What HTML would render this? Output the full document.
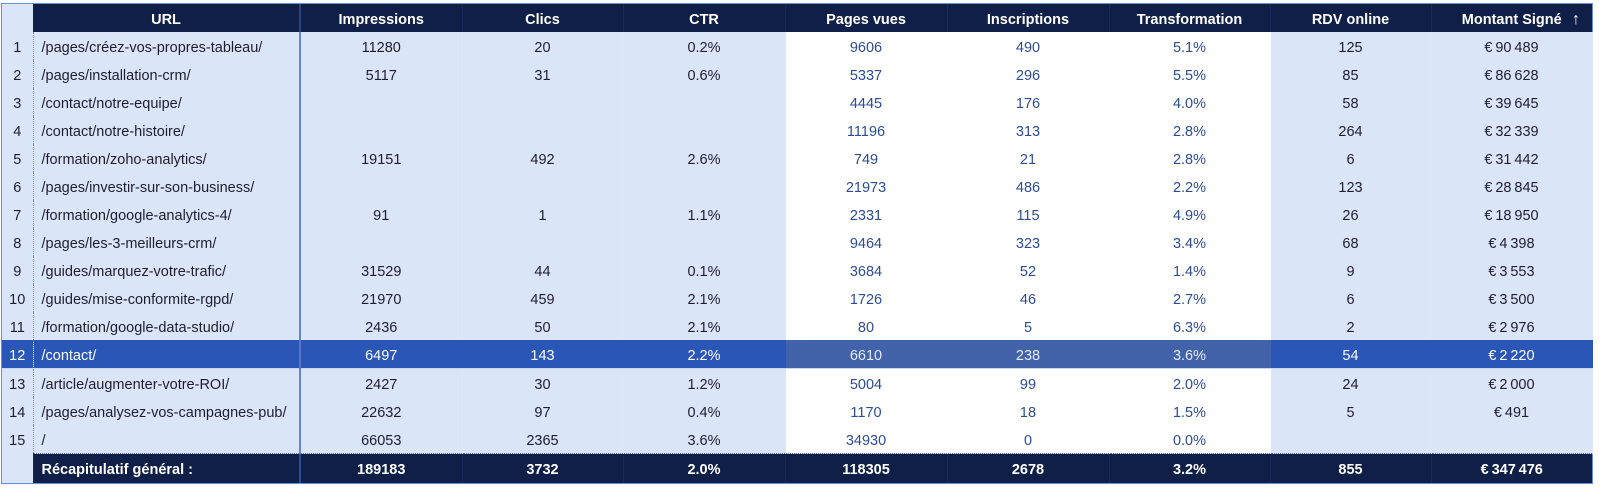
<!DOCTYPE html>
<html><head><meta charset="utf-8">
<style>
html,body{margin:0;padding:0;background:#fff;width:1600px;height:489px;overflow:hidden;}
body{font-family:"Liberation Sans",sans-serif;font-size:14.5px;}
.wrap{position:absolute;left:1px;top:3px;width:1590px;height:479px;border:1px solid #6a8fd8;background:#dbe5f8;}
table{border-collapse:collapse;table-layout:fixed;width:1590px;position:absolute;left:0;top:0;}
td,th{padding:4px 0 0 0;height:24px;line-height:24px;text-align:center;white-space:nowrap;overflow:hidden;color:#1d1f2e;}
th{background:#0f1f47;color:#fff;font-weight:bold;border-right:1px solid #17295a;}
th.i{background:#dbe5f8;border-right:none;}
td{background:#dbe5f8;border-right:1px solid #dee7f9;}
td.i{border-right:1px dotted #6d8ad0;}
td.u{text-align:left;padding-left:8px;border-right:2px solid #6584cf;}
td.w{background:#fff;color:#2d4c94;border-right:1px solid #fff;}
tr.h td{background:#2a56b8;color:#fff;border-bottom:1px solid #c9d6f2;border-right:1px solid #2a56b8;}
tr.h td.i{border-right:1px dotted #4a6fc4;}
tr.h td.u{border-right:2px solid #5576c4;}
tr.h td.w{background:#4262aa;color:#e6ebf6;border-right:1px solid #4262aa;}
tr.s td{background:#0f1f47;color:#fff;font-weight:bold;height:25px;line-height:25px;border-top:1px dotted #5a6f9e;border-right:1px solid #17295a;}
tr.s td.i{background:#dbe5f8;border-top:none;}
tr.s td.u{border-right:2px solid #2f4e98;}
.arr{position:absolute;right:12px;font-weight:bold;font-size:16px;}
</style></head><body>
<div class="wrap">
<table>
<colgroup><col style="width:31px"><col style="width:267px"><col style="width:162px"><col style="width:161px"><col style="width:162px"><col style="width:162px"><col style="width:162px"><col style="width:161px"><col style="width:161px"><col style="width:161px"></colgroup>
<tr><th class="i"></th><th style="border-right:2px solid #2b4580">URL</th><th>Impressions</th><th>Clics</th><th>CTR</th><th>Pages vues</th><th>Inscriptions</th><th>Transformation</th><th>RDV online</th><th style="position:relative;border-right:none">Montant Signé<span class="arr">↑</span></th></tr>
<tr><td class="i">1</td><td class="u">/pages/créez-vos-propres-tableau/</td><td>11280</td><td>20</td><td>0.2%</td><td class="w">9606</td><td class="w">490</td><td class="w">5.1%</td><td>125</td><td>€&#8201;90&#8201;489</td></tr>
<tr><td class="i">2</td><td class="u">/pages/installation-crm/</td><td>5117</td><td>31</td><td>0.6%</td><td class="w">5337</td><td class="w">296</td><td class="w">5.5%</td><td>85</td><td>€&#8201;86&#8201;628</td></tr>
<tr><td class="i">3</td><td class="u">/contact/notre-equipe/</td><td></td><td></td><td></td><td class="w">4445</td><td class="w">176</td><td class="w">4.0%</td><td>58</td><td>€&#8201;39&#8201;645</td></tr>
<tr><td class="i">4</td><td class="u">/contact/notre-histoire/</td><td></td><td></td><td></td><td class="w">11196</td><td class="w">313</td><td class="w">2.8%</td><td>264</td><td>€&#8201;32&#8201;339</td></tr>
<tr><td class="i">5</td><td class="u">/formation/zoho-analytics/</td><td>19151</td><td>492</td><td>2.6%</td><td class="w">749</td><td class="w">21</td><td class="w">2.8%</td><td>6</td><td>€&#8201;31&#8201;442</td></tr>
<tr><td class="i">6</td><td class="u">/pages/investir-sur-son-business/</td><td></td><td></td><td></td><td class="w">21973</td><td class="w">486</td><td class="w">2.2%</td><td>123</td><td>€&#8201;28&#8201;845</td></tr>
<tr><td class="i">7</td><td class="u">/formation/google-analytics-4/</td><td>91</td><td>1</td><td>1.1%</td><td class="w">2331</td><td class="w">115</td><td class="w">4.9%</td><td>26</td><td>€&#8201;18&#8201;950</td></tr>
<tr><td class="i">8</td><td class="u">/pages/les-3-meilleurs-crm/</td><td></td><td></td><td></td><td class="w">9464</td><td class="w">323</td><td class="w">3.4%</td><td>68</td><td>€&#8201;4&#8201;398</td></tr>
<tr><td class="i">9</td><td class="u">/guides/marquez-votre-trafic/</td><td>31529</td><td>44</td><td>0.1%</td><td class="w">3684</td><td class="w">52</td><td class="w">1.4%</td><td>9</td><td>€&#8201;3&#8201;553</td></tr>
<tr><td class="i">10</td><td class="u">/guides/mise-conformite-rgpd/</td><td>21970</td><td>459</td><td>2.1%</td><td class="w">1726</td><td class="w">46</td><td class="w">2.7%</td><td>6</td><td>€&#8201;3&#8201;500</td></tr>
<tr><td class="i">11</td><td class="u">/formation/google-data-studio/</td><td>2436</td><td>50</td><td>2.1%</td><td class="w">80</td><td class="w">5</td><td class="w">6.3%</td><td>2</td><td>€&#8201;2&#8201;976</td></tr>
<tr class="h"><td class="i">12</td><td class="u">/contact/</td><td>6497</td><td>143</td><td>2.2%</td><td class="w">6610</td><td class="w">238</td><td class="w">3.6%</td><td>54</td><td>€&#8201;2&#8201;220</td></tr>
<tr><td class="i">13</td><td class="u">/article/augmenter-votre-ROI/</td><td>2427</td><td>30</td><td>1.2%</td><td class="w">5004</td><td class="w">99</td><td class="w">2.0%</td><td>24</td><td>€&#8201;2&#8201;000</td></tr>
<tr><td class="i">14</td><td class="u">/pages/analysez-vos-campagnes-pub/</td><td>22632</td><td>97</td><td>0.4%</td><td class="w">1170</td><td class="w">18</td><td class="w">1.5%</td><td>5</td><td>€&#8201;491</td></tr>
<tr><td class="i">15</td><td class="u">/</td><td>66053</td><td>2365</td><td>3.6%</td><td class="w">34930</td><td class="w">0</td><td class="w">0.0%</td><td></td><td></td></tr>
<tr class="s"><td class="i"></td><td class="u">Récapitulatif général :</td><td>189183</td><td>3732</td><td>2.0%</td><td>118305</td><td>2678</td><td>3.2%</td><td>855</td><td style="border-right:none">€&#8201;347&#8201;476</td></tr>
</table>
</div>
</body></html>
